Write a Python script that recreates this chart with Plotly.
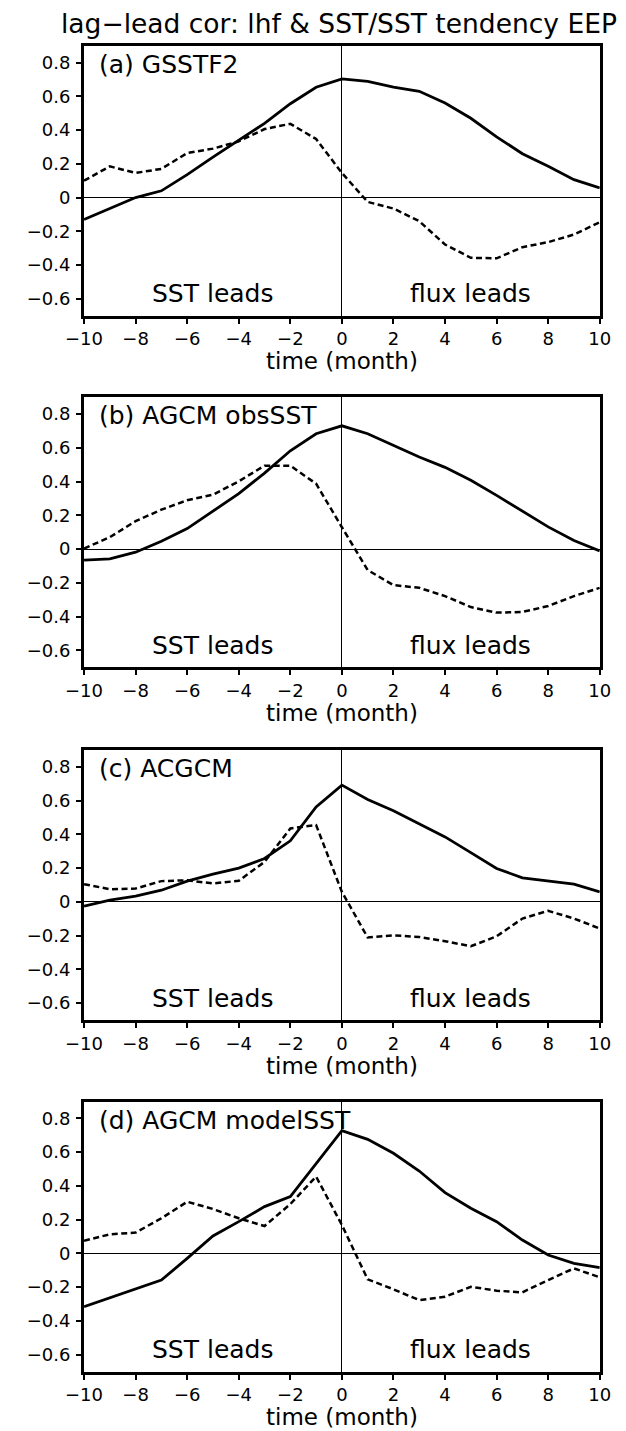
import plotly.graph_objects as go

# ---------------- data ----------------
months = list(range(-10, 11))

panel_labels = ["(a) GSSTF2", "(b) AGCM obsSST", "(c) ACGCM", "(d) AGCM modelSST"]

# solid: lhf vs SST ; dashed: lhf vs SST tendency
a_sst = [-0.13, -0.067, 0.0, 0.04, 0.136, 0.24, 0.34, 0.44, 0.556, 0.654, 0.703,
         0.688, 0.654, 0.63, 0.56, 0.47, 0.36, 0.26, 0.185, 0.106, 0.057]
a_tend = [0.10, 0.185, 0.146, 0.17, 0.264, 0.29, 0.333, 0.406, 0.437, 0.347, 0.146,
          -0.026, -0.065, -0.14, -0.278, -0.357, -0.36, -0.294, -0.264, -0.219, -0.146]

b_sst = [-0.065, -0.057, -0.018, 0.047, 0.122, 0.225, 0.329, 0.451, 0.583, 0.684, 0.731,
         0.684, 0.613, 0.546, 0.485, 0.408, 0.319, 0.225, 0.132, 0.051, -0.01]
b_tend = [0.004, 0.071, 0.166, 0.234, 0.29, 0.323, 0.402, 0.495, 0.495, 0.388, 0.13,
          -0.124, -0.213, -0.229, -0.278, -0.343, -0.376, -0.372, -0.337, -0.278, -0.229]

c_sst = [-0.026, 0.01, 0.034, 0.069, 0.123, 0.164, 0.2, 0.257, 0.362, 0.563, 0.692,
         0.607, 0.54, 0.464, 0.385, 0.292, 0.198, 0.142, 0.125, 0.105, 0.059]
c_tend = [0.105, 0.075, 0.079, 0.123, 0.128, 0.109, 0.125, 0.237, 0.435, 0.455, 0.059,
          -0.211, -0.198, -0.208, -0.233, -0.263, -0.204, -0.099, -0.053, -0.099, -0.158]

d_sst = [-0.316, -0.263, -0.213, -0.158, -0.03, 0.103, 0.188, 0.277, 0.336, 0.534, 0.727,
         0.676, 0.593, 0.488, 0.36, 0.267, 0.188, 0.079, -0.01, -0.059, -0.085]
d_tend = [0.075, 0.113, 0.123, 0.208, 0.306, 0.263, 0.208, 0.162, 0.292, 0.455, 0.168,
          -0.154, -0.213, -0.277, -0.257, -0.198, -0.221, -0.231, -0.158, -0.089, -0.142]

sst_series = [a_sst, b_sst, c_sst, d_sst]
tend_series = [a_tend, b_tend, c_tend, d_tend]

x_tickvals = list(range(-10, 11, 2))
x_ticktext = ["\u221210", "\u22128", "\u22126", "\u22124", "\u22122", "0", "2", "4", "6", "8", "10"]
y_tickvals = [-0.6, -0.4, -0.2, 0, 0.2, 0.4, 0.6, 0.8]
y_ticktext = ["\u22120.6", "\u22120.4", "\u22120.2", "0", "0.2", "0.4", "0.6", "0.8"]

title_text = "lag\u2212lead cor: lhf & SST/SST tendency EEP"
xaxis_title = "time (month)"
left_note = "SST leads"
right_note = "flux leads"

# ---------------- layout geometry (pixels) ----------------
W, H = 626, 1431
LEFT, RIGHT = 68.3, 610.0
TOPS = [45.7, 397.3, 750.0, 1101.5]
PH = 270.0
FONT = "DejaVu Sans"

fig = go.Figure()
layout = dict(
    width=W, height=H,
    margin=dict(l=0, r=0, t=0, b=0),
    paper_bgcolor="white", plot_bgcolor="white",
    showlegend=False,
    font=dict(family=FONT, color="black"),
)
annotations = []

for i in range(4):
    sfx = "" if i == 0 else str(i + 1)
    xa, ya = "x" + sfx, "y" + sfx
    top = TOPS[i]
    bot = top + PH
    ydom = [1 - bot / H, 1 - top / H]
    xdom = [LEFT / W, RIGHT / W]

    fig.add_trace(go.Scatter(x=months, y=sst_series[i], mode="lines", xaxis=xa, yaxis=ya,
                             line=dict(color="black", width=2.8)))
    fig.add_trace(go.Scatter(x=months, y=tend_series[i], mode="lines", xaxis=xa, yaxis=ya,
                             line=dict(color="black", width=2.5, dash="6px,3.5px")))

    layout["xaxis" + sfx] = dict(
        domain=xdom, anchor=ya, range=[-10, 10],
        tickvals=x_tickvals, ticktext=x_ticktext,
        ticks="outside", ticklen=5, tickwidth=2, tickcolor="black",
        tickfont=dict(family=FONT, size=18, color="black"),
        ticklabelstandoff=0,
        showline=True, linewidth=3, linecolor="black", mirror=True,
        showgrid=False, zeroline=True, zerolinecolor="black", zerolinewidth=1.3,
    )
    layout["yaxis" + sfx] = dict(
        domain=ydom, anchor=xa, range=[-0.7, 0.9],
        tickvals=y_tickvals, ticktext=y_ticktext,
        ticks="outside", ticklen=5, tickwidth=2, tickcolor="black",
        tickfont=dict(family=FONT, size=18, color="black"),
        ticklabelstandoff=2,
        showline=True, linewidth=3, linecolor="black", mirror=True,
        showgrid=False, zeroline=True, zerolinecolor="black", zerolinewidth=1.3,
    )

    annotations.append(dict(xref=xa, yref=ya, x=-9.5, y=0.79, text=panel_labels[i],
                            showarrow=False, xanchor="left", yanchor="middle",
                            font=dict(family=FONT, size=25, color="black")))
    annotations.append(dict(xref=xa, yref=ya, x=-5, y=-0.57, text=left_note,
                            showarrow=False, xanchor="center", yanchor="middle",
                            font=dict(family=FONT, size=25, color="black")))
    annotations.append(dict(xref=xa, yref=ya, x=5, y=-0.57, text=right_note,
                            showarrow=False, xanchor="center", yanchor="middle",
                            font=dict(family=FONT, size=25, color="black")))
    # x-axis title
    annotations.append(dict(xref="paper", yref="paper", x=(LEFT + RIGHT) / 2 / W,
                            y=1 - (bot + 45.5) / H, text=xaxis_title,
                            showarrow=False, xanchor="center", yanchor="middle",
                            borderpad=0,
                            font=dict(family=FONT, size=23, color="black")))

annotations.append(dict(xref="paper", yref="paper", x=336 / W, y=1 - 23.3 / H,
                        text=title_text, showarrow=False, xanchor="center", yanchor="middle",
                        font=dict(family=FONT, size=26.5, color="black")))

layout["annotations"] = annotations
fig.update_layout(**layout)
fig.write_html("out.html",
               config={"displayModeBar": False},
               post_script="document.body.style.margin='0px';document.body.style.overflow='hidden';")
